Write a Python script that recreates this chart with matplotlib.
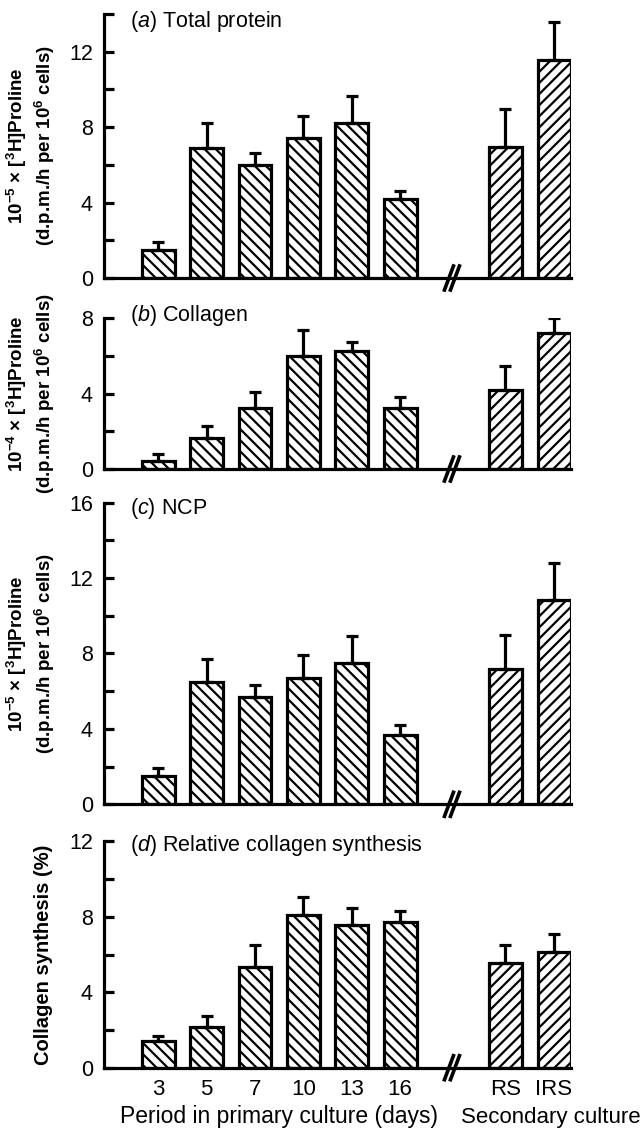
import numpy as np
import matplotlib
matplotlib.use("Agg")
import matplotlib.pyplot as plt
from matplotlib.lines import Line2D
from matplotlib.transforms import blended_transform_factory, ScaledTranslation

plt.rcParams["font.family"] = ["Liberation Sans", "DejaVu Sans"]
plt.rcParams["mathtext.fontset"] = "custom"
plt.rcParams["mathtext.rm"] = "Liberation Sans"
plt.rcParams["mathtext.it"] = "Liberation Sans:italic"
plt.rcParams["mathtext.bf"] = "Liberation Sans:bold"
plt.rcParams["hatch.linewidth"] = 1.6

# categories
primary_days = ["3", "5", "7", "10", "13", "16"]
secondary = ["RS", "IRS"]
primary_pos = [0, 1, 2, 3, 4, 5]
secondary_pos = [7.17, 8.18]
break_pos = 6.07

# (a) total protein, 10^-5 x dpm/h per 10^6 cells
total_prim = [1.5, 6.9, 6.0, 7.4, 8.2, 4.2]
total_prim_err = [0.4, 1.3, 0.65, 1.2, 1.45, 0.4]
total_sec = [6.95, 11.55]
total_sec_err = [2.0, 2.05]

# (b) collagen, 10^-4 x dpm/h per 10^6 cells
coll_prim = [0.45, 1.65, 3.25, 6.0, 6.25, 3.25]
coll_prim_err = [0.35, 0.65, 0.85, 1.35, 0.5, 0.55]
coll_sec = [4.2, 7.2]
coll_sec_err = [1.25, 0.8]

# (c) NCP
ncp_prim = [1.5, 6.5, 5.7, 6.7, 7.5, 3.7]
ncp_prim_err = [0.45, 1.2, 0.65, 1.2, 1.4, 0.5]
ncp_sec = [7.15, 10.85]
ncp_sec_err = [1.8, 1.95]

# (d) relative collagen synthesis (%)
rel_prim = [1.4, 2.15, 5.35, 8.1, 7.55, 7.7]
rel_prim_err = [0.3, 0.6, 1.15, 0.95, 0.9, 0.6]
rel_sec = [5.55, 6.15]
rel_sec_err = [0.95, 0.95]

W, H = 644, 1129
fig = plt.figure(figsize=(W / 100, H / 100), dpi=100)

LEFT_PX, RIGHT_PX = 104, 571
XLIM = (-1.12, 8.53)

proline5 = "10$^{\\mathbf{-5}}$ × [$^{\\mathbf{3}}$H]Proline\n(d.p.m./h per 10$^{\\mathbf{6}}$ cells)"
proline4 = "10$^{\\mathbf{-4}}$ × [$^{\\mathbf{3}}$H]Proline\n(d.p.m./h per 10$^{\\mathbf{6}}$ cells)"

# (top_px, bottom_px, ymax, title, title_center_px, ylabel, ylabel_x_px, ylabel_size)
panels = [
    (14, 278, 14, "($\\it{a}$) Total protein", 21, proline5, 31, 13.5,
     total_prim, total_prim_err, total_sec, total_sec_err),
    (318, 469, 8, "($\\it{b}$) Collagen", 315, proline4, 31, 13.5,
     coll_prim, coll_prim_err, coll_sec, coll_sec_err),
    (502.5, 804.3, 16, "($\\it{c}$) NCP", 508, proline5, 31, 13.5,
     ncp_prim, ncp_prim_err, ncp_sec, ncp_sec_err),
    (841.4, 1067.7, 12, "($\\it{d}$) Relative collagen synthesis", 846,
     "Collagen synthesis (%)", 44, 14.5,
     rel_prim, rel_prim_err, rel_sec, rel_sec_err),
]

LW = 2.3
axes = []
for i, (top, bot, ymax, title, tpx, ylab, ylx, yls, pv, pe, sv, se) in enumerate(panels):
    ax = fig.add_axes([LEFT_PX / W, 1 - bot / H, (RIGHT_PX - LEFT_PX) / W, (bot - top) / H])
    axes.append(ax)
    ax.bar(primary_pos, pv, width=0.68, facecolor="white", edgecolor="black",
           linewidth=LW, hatch="\\\\\\", zorder=2)
    ax.bar(secondary_pos, sv, width=0.68, facecolor="white", edgecolor="black",
           linewidth=LW, hatch="///", zorder=2)
    ax.errorbar(primary_pos, pv, yerr=[np.zeros(len(pv)), pe], fmt="none",
                ecolor="black", elinewidth=LW, capsize=4.5, capthick=LW, zorder=3)
    ax.errorbar(secondary_pos, sv, yerr=[np.zeros(len(sv)), se], fmt="none",
                ecolor="black", elinewidth=LW, capsize=4.5, capthick=LW, zorder=3)

    ax.set_xlim(*XLIM)
    ax.set_ylim(0, ymax)
    ax.set_yticks(np.arange(0, ymax + 0.1, 4))
    ax.set_yticks(np.arange(0, ymax + 0.1, 2), minor=True)
    ax.tick_params(axis="y", which="both", direction="in", length=7, width=LW,
                   labelsize=15.5, pad=8)
    for s in ("top", "right"):
        ax.spines[s].set_visible(False)
    for s in ("left", "bottom"):
        ax.spines[s].set_linewidth(LW)
        ax.spines[s].set_capstyle("projecting")

    if i == 3:
        ax.set_xticks(primary_pos + secondary_pos)
        ax.set_xticklabels(primary_days + secondary)
        ax.tick_params(axis="x", length=0, labelsize=16, pad=8)
    else:
        ax.set_xticks([])

    # panel title
    ty = 1 - (tpx - top) / (bot - top)
    ax.text((130 - LEFT_PX) / (RIGHT_PX - LEFT_PX), ty, title, transform=ax.transAxes,
            ha="left", va="center", fontsize=15.5)

    # y label
    fig.text(ylx / W, 1 - (top + bot) / 2 / H, ylab, rotation=90, ha="center",
             va="center", multialignment="center", fontsize=yls, fontweight="bold",
             linespacing=1.2)

    # axis break marks
    bt = blended_transform_factory(ax.transData, ax.transAxes)
    for dx in (-3.0, 3.0):
        base = bt + ScaledTranslation(dx / 100, 0, fig.dpi_scale_trans)
        p0 = (base + ScaledTranslation(-4.5 / 100, -12 / 100, fig.dpi_scale_trans)).transform((break_pos, 0))
        p1 = (base + ScaledTranslation(4.5 / 100, 12 / 100, fig.dpi_scale_trans)).transform((break_pos, 0))
        ax.add_line(Line2D([p0[0], p1[0]], [p0[1], p1[1]], transform=None,
                           color="black", linewidth=2.6, clip_on=False, zorder=5))

ax = axes[3]
xt = blended_transform_factory(ax.transData, ax.transAxes)
ly = -(1117 - 1067.7) / (1067.7 - 841.4)
ax.text(np.mean(primary_pos), ly, "Period in primary culture (days)", transform=xt,
        ha="center", va="center", fontsize=16.5)
fig.text(641 / W, 1 - 1117 / H, "Secondary culture",
         ha="right", va="center", fontsize=16)

fig.savefig("out.png", dpi=100)
